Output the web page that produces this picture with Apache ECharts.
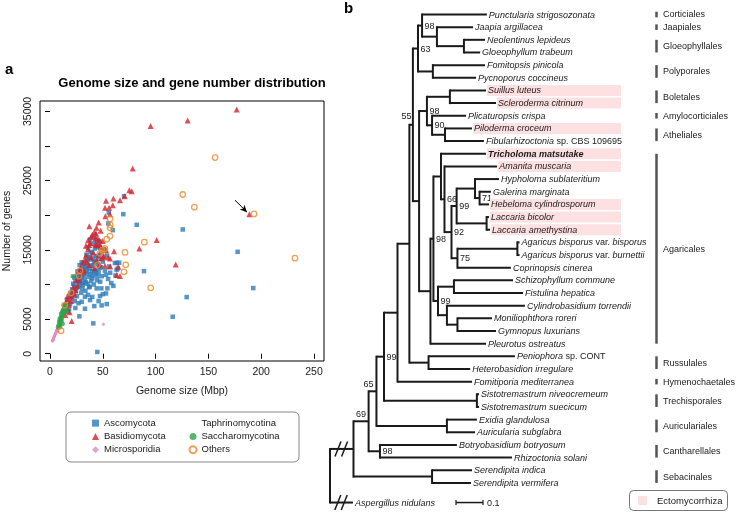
<!DOCTYPE html>
<html><head><meta charset="utf-8">
<script src="https://cdn.jsdelivr.net/npm/echarts@6/dist/echarts.min.js"></script>
<style>html,body{margin:0;padding:0;background:#fff}#c{width:737px;height:512px}</style>
</head><body><div id="c"></div>
<script>
// ===================== Panel a data =====================
const xTicks = [0, 50, 100, 150, 200, 250];
const yTicks = [0, 5000, 10000, 15000, 20000, 25000, 30000, 35000];
const yTickLabels = [0, 5000, 15000, 25000, 35000];

const ascomycota = [
[70.1,22760],[69.4,20160],[82.1,18620],[125.7,17950],[177.7,14720],[55.6,20400],[55.2,18820],[59.4,17850],[89,11930],[192.5,9480],[129.4,8180],[116.2,5340],[44.8,250],[41,4380],[27.8,5400],[53.7,7170],[48.9,6980],[41.9,6880],[63.2,13130],[61.5,13100],[65.5,13150],[63,12100],[54.3,9440],[48.6,9440],[44.2,9440],[33.1,6500],[53,8710],[47.3,8330],[33.1,8230],[37.9,7750],[44,16160],[47.3,15440],
[20.5,8200],[21,9300],[22,10100],[22.5,8700],[23,9800],[23.5,7600],[24,10500],[24.5,9000],[25,11200],[25.5,8300],[26,9600],[26.5,10800],[27,7300],[27.5,11500],[28,9900],[28.5,10400],[29,12000],[29.5,8800],[30,11000],[30.5,9400],[31,12500],[31.5,10200],[32,11300],[32.5,13000],[33,10700],[33.5,9100],[34,12200],[34.5,11600],[35,13400],[35.5,10100],[36,12700],[36.5,11100],[37,14000],[37.5,9700],[38,12300],[38.5,13600],[39,10500],[39.5,11900],[40,14600],[40.5,12800],[41,11300],[41.5,10000],[42,13200],[42.5,15200],[43,12100],[43.5,11600],[44,14100],[44.5,10600],[45,12900],[45.5,15600],[46,11800],[46.5,13700],[47,16200],[47.5,10400],[48,12500],[48.5,14500],[49,11200],[50,13300],[51,15100],[52,12000],[53,11400],[54,14200],[55,10800],[56,12600],[57,11700],[58,10200],[60,9800],[62,11300],[64,12300],
[36,15300],[38,16500],[40,15900],[42,16800],[44,15400],[18,6500],[19,7200],[17,6100],[16,7800],[15,6800],[24,6600],[30,7500],[36,8500],[40,8200],[46,7600],[50,8600],[37,9600],
[26,11900],[29,10900],[31,9900],[34,10300],[35,12000],[39,12700],[41,13800],[43,13300],[45,11200],[47,12400],[32,11800],[28,12800],[30,13200],[33,12600],[36,13900],[38,11500],[40,10900],[42,11900],[27,10300],[25,9500],[23,11000],[21,8000],[19,8700],[38.5,14700],[34.5,14300]
];
const basidiomycota = [
[176.8,35270],[130.4,33680],[95.3,32900],[78.3,26750],[75.1,23620],[77.4,23480],[70.7,22760],[66.3,22180],[60,22420],[53,22080],[59.4,21460],[52.1,21070],[55.9,21070],[56.8,20160],[52.4,19870],[46.1,18960],[37.2,18430],[188.8,20160],[101,16410],[84.6,15210],[60.6,14820],[119,12900],[63.2,11360],[66.3,11210],[20.5,4720],[48,17750],[43.6,17370],[43,16600],[46.7,16400],[44,15700],[47,15700],[37.2,15700],[50.5,14000],[56.8,13760],[64.7,12550],
[13,6200],[14,6900],[15,7400],[16,6500],[17,7900],[18,7100],[19,8300],[20,7600],[21,8800],[14.5,5600],[16.5,8300],[18.5,6000],
[34,14200],[35,13300],[36,15100],[37,12800],[38,16000],[39,13900],[40,17200],[41,14600],[42,12400],[43,15800],[44,13500],[45,16700],[46,14300],[47,12900],[48,15400],[49,13800],[50,16300],[51,14100],[52,12700],[53,15000],[55,13900],[57,12600],[33,13600],[32,12000],[31,13200],[30,11600],[29,12400],[28,10700],[27,11900],[26,9800],[25,10600],[24,9200],[23,8500],[22,9600],[42,17600],[44,18200],[39,16900],[36,16400],[34,15600]
];
const microsporidia = [[2.5,1900],[3,2100],[3.5,2300],[4,2500],[4.5,2700],[5,2900],[5.5,3000],[6,3200],[6.5,3300],[7,3500],[8,3600],[3,2000],[4,2400],[5,2800],[9,3800],[50.5,4240],[2.2,1850],[6,3400],[10,3700],[7.5,3200],[8.5,3900]];
const taphrinomycotina = [];
const saccharomycotina = [[8,4100],[8.5,4600],[9,5000],[9.5,4400],[10,5300],[10.5,5800],[11,5100],[11.5,6000],[12,5600],[12.5,6400],[13,5900],[13.5,6700],[14,6200],[14.5,6900],[15,6500],[10,4800],[11,5500],[12,6200],[9,4000],[16,6100],[21.5,11200],[7.5,3800],[13,7000],[15.5,7100],[12,4300],[9.5,3900],[11,4700],[10.5,5000]];
const others = [[156.3,28340],[125.7,23000],[136.7,21170],[193.2,20200],[89.3,16120],[71,14630],[56.8,19480],[56.8,18180],[53.7,16550],[71.7,12840],[70.1,11830],[95.3,9520],[10.4,3320],[49.5,14960],[27.5,11210],[232,13800],[52,15200],[57,18600],[47.3,14500],[28.4,11980],[44.8,12800],[20,8800],[14,7000],[56.8,17000]];
const arrowFrom = [175.2, 22180];
const arrowTo = [186.6, 20450];

// ===================== Panel b data =====================
// node = [support or taxon name, depth from root (substitutions/site), children?]
const treeData =
["", 0, [
  ["69", 0.087, [
    ["65", 0.143, [
      ["", 0.172, [
        ["99", 0.200, [
          ["", 0.250, [
            ["", 0.294, [
              ["55", 0.307, [
                ["63", 0.326, [
                  ["98", 0.341, [
                    ["Punctularia strigosozonata", 0.581],
                    ["", 0.396, [
                      ["Jaapia argillacea", 0.530],
                      ["", 0.496, [["Neolentinus lepideus", 0.574], ["Gloeophyllum trabeum", 0.556]]]
                    ]]
                  ]],
                  ["", 0.381, [["Fomitopsis pinicola", 0.574], ["Pycnoporus coccineus", 0.541]]]
                ]],
                ["", 0.330, [
                  ["98", 0.359, [
                    ["", 0.444, [["Suillus luteus", 0.578], ["Scleroderma citrinum", 0.615]]],
                    ["90", 0.378, [
                      ["Plicaturopsis crispa", 0.504],
                      ["", 0.426, [["Piloderma croceum", 0.526], ["Fibularhizoctonia sp. CBS 109695", 0.570]]]
                    ]]
                  ]],
                  ["", 0.372, [
                    ["98", 0.383, [
                      ["", 0.411, [
                        ["Tricholoma matsutake", 0.578],
                        ["66", 0.424, [
                          ["Amanita muscaria", 0.619],
                          ["92", 0.450, [
                            ["99", 0.469, [
                              ["", 0.537, [["Hypholoma sublateritium", 0.626], ["71", 0.554, [["Galerina marginata", 0.596], ["Hebeloma cylindrosporum", 0.589]]]]],
                              ["", 0.580, [["Laccaria bicolor", 0.589], ["Laccaria amethystina", 0.593]]]
                            ]],
                            ["75", 0.472, [
                              ["", 0.694, [["Agaricus bisporus var. bisporus", 0.702], ["Agaricus bisporus var. burnettii", 0.702]]],
                              ["Coprinopsis cinerea", 0.670]
                            ]]
                          ]]
                        ]]
                      ]],
                      ["99", 0.400, [
                        ["", 0.459, [["Schizophyllum commune", 0.678], ["Fistulina hepatica", 0.715]]],
                        ["", 0.433, [["Cylindrobasidium torrendii", 0.722], ["", 0.472, [["Moniliophthora roreri", 0.600], ["Gymnopus luxurians", 0.615]]]]]
                      ]]
                    ]],
                    ["Pleurotus ostreatus", 0.578]
                  ]]
                ]]
              ]],
              ["", 0.365, [["Peniophora sp. CONT", 0.685], ["Heterobasidion irregulare", 0.519]]]
            ]],
            ["Fomitiporia mediterranea", 0.526]
          ]],
          ["", 0.544, [["Sistotremastrum niveocremeum", 0.552], ["Sistotremastrum suecicum", 0.552]]]
        ]],
        ["", 0.433, [["Exidia glandulosa", 0.544], ["Auricularia subglabra", 0.537]]]
      ]],
      ["98", 0.185, [["Botryobasidium botryosum", 0.470], ["Rhizoctonia solani", 0.674]]]
    ]],
    ["", 0.378, [["Serendipita indica", 0.526], ["Serendipita vermifera", 0.522]]]
  ]],
  ["Aspergillus nidulans", 0.085]
]];
const rowGapBefore = { "Aspergillus nidulans": 0.55 };
const ectomycorrhizal = ["Suillus luteus","Scleroderma citrinum","Piloderma croceum","Tricholoma matsutake","Amanita muscaria","Hebeloma cylindrosporum","Laccaria bicolor","Laccaria amethystina"];
const boldTaxa = ["Tricholoma matsutake"];
const orderNames = ["Corticiales","Jaapiales","Gloeophyllales","Polyporales","Boletales","Amylocorticiales","Atheliales","Agaricales","Russulales","Hymenochaetales","Trechisporales","Auriculariales","Cantharellales","Sebacinales"];
const orderFirstRow = [0,1,2,4,6,8,9,11,27,29,30,32,34,36];
const orderLastRow  = [0,1,3,5,7,8,10,26,28,29,31,33,35,37];
const scaleBarLength = 0.1;

// ===================== styling / layout =====================
const FONT = '"Liberation Sans", Arial, Helvetica, sans-serif';
const INK = '#1a1a1a';
const PINK = '#fde0e1';
const C_BLUE = '#2b7bb9', C_RED = '#d3232b', C_GREEN = '#31a24c', C_PINK = '#e08cc4', C_ORANGE = '#ee8a2a';
const TREE_LEFT = 330, PX_PER_SUB = 270, ROW0 = 14.5, ROW_H = 12.66;
const HL_RIGHT = 621, ORDER_BAR_X = 656.5, ORDER_TEXT_X = 663, SCALE_X = 456;
const supportPlacement = { "55": "upLeft", "65": "topCenter", "69": "topRight" };
const uprightWords = new Set(["sp.", "var.", "CBS", "109695", "CONT"]);

// ---- tree layout (rows from leaf order, internal y = midpoint of children) ----
const treeNodes = [];
let nextRow = 0;
function walk(node, parentIdx, parentDepth) {
  const idx = treeNodes.length;
  const rec = { label: node[0], depth: node[1], parent: parentIdx, parentDepth: parentDepth, leaf: node.length === 2 };
  treeNodes.push(rec);
  if (rec.leaf) {
    nextRow += rowGapBefore[rec.label] || 0;
    rec.y = nextRow; nextRow += 1;
  } else {
    const kids = node[2].map(ch => walk(ch, idx, node[1]));
    rec.top = treeNodes[kids[0]].y;
    rec.bot = treeNodes[kids[kids.length - 1]].y;
    rec.y = (rec.top + rec.bot) / 2;
  }
  return idx;
}
walk(treeData, -1, 0);
const outgroupRow = treeNodes.find(n => n.label === "Aspergillus nidulans").y;
const treeSeriesData = treeNodes.map(n => [n.depth, n.y, n.parent >= 0 ? n.parentDepth : n.depth, n.leaf ? n.y : n.top, n.leaf ? n.y : n.bot]);

const RICH = {
  i: { fontStyle: 'italic', fontSize: 9, fontFamily: FONT, fill: INK },
  b: { fontStyle: 'italic', fontWeight: 'bold', fontSize: 9, fontFamily: FONT, fill: INK },
  n: { fontSize: 9, fontFamily: FONT, fill: INK }
};
function richName(name) {
  const key = boldTaxa.includes(name) ? 'b' : 'i';
  return name.split(' ').map(w => uprightWords.has(w) ? '{n|' + w + '}' : '{' + key + '|' + w + '}').join('{n| }');
}

function seg(x1, y1, x2, y2, w, c) {
  return { type: 'line', shape: { x1, y1, x2, y2 }, style: { stroke: c || INK, lineWidth: w || 2 } };
}

function renderTree(params, api) {
  const n = treeNodes[params.dataIndex];
  const p = api.coord([api.value(0), api.value(1)]);
  const els = [];
  if (n.parent >= 0) {
    const q = api.coord([api.value(2), api.value(1)]);
    els.push(seg(q[0], p[1], p[0], p[1]));
    if (n.parent === 0) {
      [0.34, 0.62].forEach(f => {
        const cx = q[0] + (p[0] - q[0]) * f;
        els.push(seg(cx - 3, p[1] + 7.5, cx + 3, p[1] - 7.5, 1.5));
      });
    }
  }
  if (!n.leaf) {
    const t = api.coord([api.value(0), api.value(3)]);
    const b = api.coord([api.value(0), api.value(4)]);
    els.push(seg(p[0], t[1] - 1, p[0], b[1] + 1));
    if (n.label && n.parent >= 0) {
      const pl = supportPlacement[n.label] || 'right';
      let x = p[0] + 2.5, y = p[1] + 0.5, align = 'left';
      if (pl === 'upLeft') { x = p[0] - 1.5; y = p[1] - 8; align = 'right'; }
      if (pl === 'topCenter') { x = p[0]; y = t[1] - 6.5; align = 'center'; }
      if (pl === 'topRight') { x = p[0] + 2.5; y = t[1] - 6.5; align = 'left'; }
      els.push({ type: 'text', x, y, style: { text: n.label, fontSize: 9, fontFamily: FONT, fill: INK, align, verticalAlign: 'middle' } });
    }
  } else {
    if (ectomycorrhizal.includes(n.label)) {
      els.unshift({ type: 'rect', shape: { x: p[0] + 1, y: p[1] - 5.5, width: HL_RIGHT - p[0] - 1, height: 11 }, style: { fill: PINK } });
    }
    els.push({ type: 'text', x: p[0] + 2, y: p[1] + 0.5, style: { text: richName(n.label), rich: RICH, fontSize: 9, fontFamily: FONT, fill: INK, align: 'left', verticalAlign: 'middle' } });
  }
  return { type: 'group', children: els };
}

function renderOrders(params, api) {
  const first = api.value(0), last = api.value(1), mid = (first + last) / 2;
  const y1 = api.coord([0, Math.min(first, mid - 0.22)])[1];
  const y2 = api.coord([0, Math.max(last, mid + 0.22)])[1];
  const ym = api.coord([0, mid])[1];
  return { type: 'group', children: [
    seg(ORDER_BAR_X, y1, ORDER_BAR_X, y2, 2.5, '#555'),
    { type: 'text', x: ORDER_TEXT_X, y: ym + 0.5, style: { text: orderNames[params.dataIndex], fontSize: 9, fontFamily: FONT, fill: INK, align: 'left', verticalAlign: 'middle' } }
  ] };
}

function renderScale(params, api) {
  const len = api.value(0);
  const w = api.coord([len, 0])[0] - api.coord([0, 0])[0];
  const y = api.coord([0, api.value(1)])[1];
  return { type: 'group', children: [
    seg(SCALE_X, y, SCALE_X + w, y, 1.5),
    seg(SCALE_X, y - 2.5, SCALE_X, y + 2.5, 1.2),
    seg(SCALE_X + w, y - 2.5, SCALE_X + w, y + 2.5, 1.2),
    { type: 'text', x: SCALE_X + w + 4, y: y + 0.5, style: { text: String(len), fontSize: 9, fontFamily: FONT, fill: INK, align: 'left', verticalAlign: 'middle' } }
  ] };
}

const chart = echarts.init(document.getElementById('c'), null, { renderer: 'canvas' });
const option = {
  animation: false,
  backgroundColor: '#fff',
  textStyle: { fontFamily: FONT },
  graphic: [
    { type: 'text', left: 5, top: 62, style: { text: 'a', font: 'bold 15px ' + FONT, fill: '#000' } },
    { type: 'text', left: 344, top: 1, style: { text: 'b', font: 'bold 15px ' + FONT, fill: '#000' } },
    { type: 'text', x: 192, y: 83, style: { text: 'Genome size and gene number distribution', font: 'bold 13px ' + FONT, fill: '#000', align: 'center', verticalAlign: 'middle' } },
    { type: 'rect', shape: { x: 66, y: 412, width: 233, height: 50, r: 5 }, style: { fill: 'none', stroke: '#888', lineWidth: 1 } },
    { type: 'rect', shape: { x: 629.5, y: 490.5, width: 98, height: 20, r: 4 }, style: { fill: 'none', stroke: '#777', lineWidth: 1 } },
    { type: 'rect', shape: { x: 638, y: 496, width: 9, height: 9 }, style: { fill: PINK } },
    { type: 'text', x: 657, y: 501, style: { text: 'Ectomycorrhiza', fontSize: 9.5, fontFamily: FONT, fill: INK, align: 'left', verticalAlign: 'middle' } }
  ],
  legend: [
    { orient: 'vertical', left: 87, top: 411.5, itemWidth: 7, itemHeight: 7, itemGap: 0, selectedMode: false,
      data: ['Ascomycota', 'Basidiomycota', 'Microsporidia'], textStyle: { fontSize: 9.5, color: INK, lineHeight: 13.3 } },
    { orient: 'vertical', left: 183.5, top: 411.5, itemWidth: 7, itemHeight: 7, itemGap: 0, selectedMode: false,
      data: ['Taphrinomycotina', 'Saccharomycotina', 'Others'], textStyle: { fontSize: 9.5, color: INK, lineHeight: 13.3 } }
  ],
  grid: [
    { left: 40, top: 101, width: 284, height: 260, show: true, borderColor: '#000', borderWidth: 1, backgroundColor: 'transparent' },
    { left: TREE_LEFT, top: ROW0, width: 737 - TREE_LEFT, height: 37 * ROW_H, show: false }
  ],
  xAxis: [
    { gridIndex: 0, type: 'value', min: -9.5, max: 259.5, name: 'Genome size (Mbp)', nameLocation: 'middle', nameGap: 25,
      nameTextStyle: { fontSize: 10.5, color: INK }, axisLine: { show: false }, splitLine: { show: false },
      axisTick: { show: true, length: 5, customValues: xTicks, lineStyle: { color: '#000' } },
      axisLabel: { customValues: xTicks, fontSize: 10.5, color: INK, margin: 6 } },
    { gridIndex: 1, type: 'value', min: 0, max: (737 - TREE_LEFT) / PX_PER_SUB, show: false }
  ],
  yAxis: [
    { gridIndex: 0, type: 'value', min: -1053, max: 36508, name: 'Number of genes', nameLocation: 'middle', nameGap: 27,
      nameTextStyle: { fontSize: 10.5, color: INK }, axisLine: { show: false }, splitLine: { show: false },
      axisTick: { show: true, length: 5, customValues: yTicks, lineStyle: { color: '#000' } },
      axisLabel: { customValues: yTickLabels, rotate: 90, fontSize: 10.5, color: INK, margin: 6, formatter: v => String(v) } },
    { gridIndex: 1, type: 'value', min: 0, max: 37, inverse: true, show: false }
  ],
  series: [
    { name: 'Ascomycota', type: 'scatter', xAxisIndex: 0, yAxisIndex: 0, data: ascomycota, symbol: 'rect', symbolSize: 4.5, itemStyle: { color: C_BLUE } },
    { name: 'Basidiomycota', type: 'scatter', xAxisIndex: 0, yAxisIndex: 0, data: basidiomycota, symbol: 'triangle', symbolSize: 6, itemStyle: { color: C_RED },
      markLine: { silent: true, symbol: ['none', 'arrow'], symbolSize: [5, 7], label: { show: false }, lineStyle: { color: '#000', width: 1, type: 'solid' },
        data: [[{ coord: arrowFrom }, { coord: arrowTo }]] } },
    { name: 'Microsporidia', type: 'scatter', xAxisIndex: 0, yAxisIndex: 0, data: microsporidia, symbol: 'diamond', symbolSize: 4, itemStyle: { color: C_PINK } },
    { name: 'Taphrinomycotina', type: 'scatter', xAxisIndex: 0, yAxisIndex: 0, data: taphrinomycotina, symbol: 'circle', symbolSize: 4.5, itemStyle: { color: 'rgba(0,0,0,0)' } },
    { name: 'Saccharomycotina', type: 'scatter', xAxisIndex: 0, yAxisIndex: 0, data: saccharomycotina, symbol: 'circle', symbolSize: 4.5, itemStyle: { color: C_GREEN } },
    { name: 'Others', type: 'scatter', xAxisIndex: 0, yAxisIndex: 0, data: others, symbol: 'circle', symbolSize: 5.5, itemStyle: { color: 'rgba(255,255,255,0)', borderColor: C_ORANGE, borderWidth: 1.3 } },
    { name: 'tree', type: 'custom', xAxisIndex: 1, yAxisIndex: 1, clip: false, silent: true, renderItem: renderTree, data: treeSeriesData, z: 3 },
    { name: 'orders', type: 'custom', xAxisIndex: 1, yAxisIndex: 1, clip: false, silent: true, renderItem: renderOrders,
      data: orderNames.map((_, i) => [orderFirstRow[i], orderLastRow[i]]) },
    { name: 'scale', type: 'custom', xAxisIndex: 1, yAxisIndex: 1, clip: false, silent: true, renderItem: renderScale,
      data: [[scaleBarLength, outgroupRow]] }
  ]
};
chart.setOption(option);
</script>
</body></html>
